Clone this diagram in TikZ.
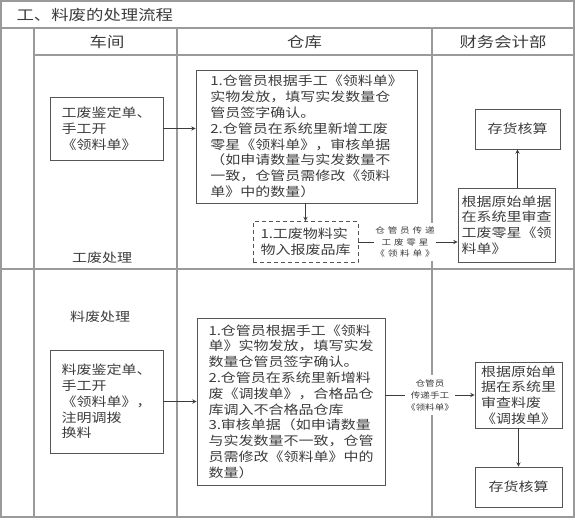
\documentclass[tikz,border=0pt]{standalone}
\usepackage{fontspec}
\setmainfont{Noto Sans CJK SC}[FakeStretch=1.2]
\newfontfamily\notefont{Noto Sans CJK SC}[FakeStretch=1.2,LetterSpace=35]
\newfontfamily\noteplain{Noto Sans CJK SC}[FakeStretch=1.2]
\usetikzlibrary{calc}
\definecolor{gridgray}{HTML}{9A9A9A}
\definecolor{boxgray}{HTML}{555555}
\definecolor{inkgray}{HTML}{3C3C3C}
\tikzset{>=stealth}
\tikzset{
  box/.style={draw=boxgray, line width=0.9pt, align=left, inner sep=0pt, text=inkgray,
    font=\fontsize{12.5}{15.8}\selectfont},
  dbox/.style={box, dashed, dash pattern=on 4pt off 3pt},
  flow/.style={->, draw=inkgray, line width=0.9pt},
  note/.style={fill=white, align=center, inner xsep=1pt, inner ysep=4pt, text=inkgray},
  lane/.style={draw=gridgray, line width=1.2pt},
  head/.style={text=inkgray, font=\fontsize{14.5}{17}\selectfont},
  tag/.style={text=inkgray, font=\fontsize{12.5}{15}\selectfont}
}

\begin{document}
\begin{tikzpicture}[x=1pt,y=-1pt]
      \useasboundingbox (0,0) rectangle (575,519);
      % table
      \draw[lane] (1,1) rectangle (574,517);
      \draw[lane] (1,28) -- (574,28);
      \draw[lane] (34,55) -- (574,55);
      \draw[lane] (1,269) -- (574,269);
      \foreach \x in {34,177,432}
        \draw[lane] (\x,28) -- (\x,517);
      \node[head, anchor=west] (title) at (13,15) {工、料废的处理流程};
      \node[head] (shop) at (107,42) {车间};
      \node[head] (store) at (304.5,42) {仓库};
      \node[head] (acct) at (503,42) {财务会计部};

      % gongfei
      \node[box, minimum width=113, minimum height=63] (gfd) at (106.5,128.5)
        {工废鉴定单、\\手工开\\《领料单》};
      \node[box, minimum width=221, minimum height=133] (gfck) at (306.5,136.5)
        {1.仓管员根据手工《领料单》\\实物发放，填写实发数量仓\\管员签字确认。\\2.仓管员在系统里新增工废\\零星《领料单》，审核单据\\（如申请数量与实发数量不\\一致，仓管员需修改《领料\\单》中的数量）};
      \node[dbox, minimum width=105, minimum height=41] (gfbf) at (305.5,242)
        {1.工废物料实\\物入报废品库};
      \node[box, minimum width=85, minimum height=40] (gfhs) at (517.5,129) {存货核算};
      \node[box, minimum width=97, minimum height=74] (gfsc) at (506.5,225)
        {根据原始单据\\在系统里审查\\工废零星《领\\料单》};
      \node[tag] (gflab) at (102,258) {工废处理};

      \draw[flow] (gfd.east) -- (gfd.east -| gfck.west);
      \draw[flow] (gfck.south -| gfbf.north) -- (gfbf.north);
      \draw[flow] (gfbf.east) -- node[note, pos=.47, font=\notefont\fontsize{8}{11.5}\selectfont] (gfnote)
        {仓管员传递\\工废零星\\《领料单》} (gfbf.east -| gfsc.west);
      \draw[flow] (gfsc.north -| gfhs) -- (gfhs.south);

      % liaofei
      \node[tag] (lflab) at (100,317) {料废处理};
      \node[box, minimum width=113, minimum height=103] (lfd) at (106.5,401.5)
        {料废鉴定单、\\手工开\\《领料单》，\\注明调拨\\换料};
      \node[box, minimum width=188, minimum height=167] (lfck) at (291,401.5)
        {1.仓管员根据手工《领料\\单》实物发放，填写实发\\数量仓管员签字确认。\\2.仓管员在系统里新增料\\废《调拨单》，合格品仓\\库调入不合格品仓库\\3.审核单据（如申请数量\\与实发数量不一致，仓管\\员需修改《领料单》中的\\数量）};
      \node[box, minimum width=87, minimum height=66] (lfsc) at (518.5,395)
        {根据原始单\\据在系统里\\审查料废\\《调拨单》};
      \node[box, minimum width=87, minimum height=40] (lfhs) at (518.5,487) {存货核算};

      \draw[flow] (lfd.east) -- (lfck.west);
      \draw[flow] (lfck.east |- lfsc.west) -- node[note, font=\noteplain\fontsize{8}{12}\selectfont] (lfnote)
        {仓管员\\传递手工\\《领料单》} (lfsc.west);
      \draw[flow] (lfsc.south) -- (lfhs.north);
    \end{tikzpicture}
\end{document}
